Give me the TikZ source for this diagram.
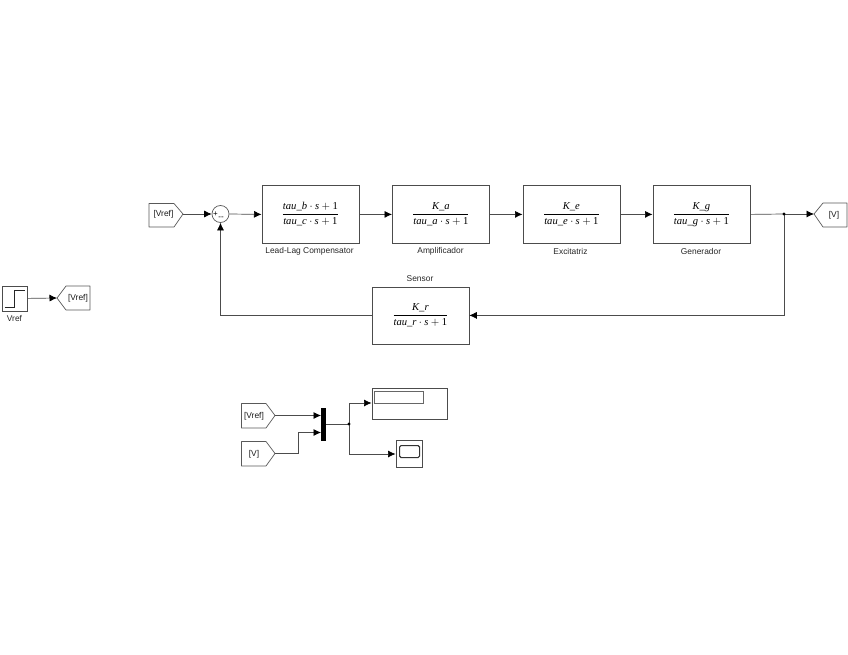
\documentclass[tikz,border=0pt]{standalone}
\usepackage{fontspec}
\newfontfamily\sansx{Liberation Sans}
\newfontfamily\serifx{Liberation Serif}
\usepackage{amsmath}
\usetikzlibrary{arrows.meta}
\begin{document}
\begin{tikzpicture}[x=1pt,y=-1pt,
  blockbox/.style={draw=black!70,line width=0.8pt,minimum width=97pt,minimum height=57pt,inner sep=0pt,anchor=north west},
  lbl/.style={font=\sansx\fontsize{8.4}{9}\selectfont,text=black!85,inner sep=0pt},
  tag/.style={font=\sansx\fontsize{8.4}{9}\selectfont,text=black!90,inner sep=0pt},
  wire/.style={draw=black!70,line width=0.7pt},
  arr/.style={wire,-{Latex[length=7.5pt,width=7pt,black]}},
  shell/.style={draw=black!65,line width=0.7pt,line join=round},
  dot/.style={circle,fill=black,inner sep=0pt,minimum size=3.4pt}]
\useasboundingbox (0,0) rectangle (848,655);
\newcommand{\vn}[1]{\mbox{\serifx\itshape #1}}
\newcommand{\tf}[2]{{\fontsize{10.6}{13}\selectfont$\dfrac{#1}{#2}$}}
\newcommand{\tl}[1]{\vn{#1}\cdot\vn{s}+\mbox{\serifx 1}}
% goto / from tags
\draw[shell] (149,203.5) -- (174,203.5) -- (183,214) -- (174,227) -- (149,227) -- cycle;
\coordinate (fromA) at (183,214);
\node[tag] at (163.5,214.5) {[Vref]};
\node[circle,draw=black!65,line width=0.7pt,minimum size=17pt,inner sep=0pt] (sum) at (220.5,214) {};
\node[font=\sansx\fontsize{8}{8}\selectfont,inner sep=0pt] at (215.5,214) {+};
\node[font=\sansx\fontsize{8}{8}\selectfont,inner sep=0pt] at (221,218) {--};
\node[blockbox] (b1) at (261.5,185.5) {\tf{\tl{tau\_b}}{\tl{tau\_c}}};
\node[blockbox] (b2) at (392,185.5) {\tf{\vn{K\_a}}{\tl{tau\_a}}};
\node[blockbox] (b3) at (522.5,185.5) {\tf{\vn{K\_e}}{\tl{tau\_e}}};
\node[blockbox] (b4) at (652.5,185.5) {\tf{\vn{K\_g}}{\tl{tau\_g}}};
\node[blockbox] (b5) at (371.5,286.5) {\tf{\vn{K\_r}}{\tl{tau\_r}}};
\node[lbl] (l1) at (309.5,251) {Lead-Lag Compensator};
\node[lbl] (l2) at (440.5,251) {Amplificador};
\node[lbl] (l3) at (570.5,251) {Excitatriz};
\node[lbl] (l4) at (701,251) {Generador};
\node[lbl] (l5) at (420,279) {Sensor};
\draw[shell] (814,214) -- (823,203) -- (847,203) -- (847,227) -- (823,227) -- cycle;
\coordinate (gotoV) at (814,214);
\node[tag] at (834,215) {[V]};
\coordinate (j1) at (784,214);
\draw[arr] (fromA) -- (sum.west);
\draw[arr] (sum.east) -- (b1.west);
\draw[arr] (b1.east) -- (b2.west);
\draw[arr] (b2.east) -- (b3.west);
\draw[arr] (b3.east) -- (b4.west);
\draw[wire] (b4.east) -- (j1);
\draw[arr] (j1) -- (gotoV);
\draw[arr] (j1) |- (b5.east);
\draw[arr] (b5.west) -| (sum.south);
\node[dot] (j1d) at (j1) {};
% step source
\node[draw=black!70,line width=0.8pt,minimum size=25pt,inner sep=0pt,anchor=north west] (step1) at (1.5,285.5) {};
\draw[line width=0.7pt,black!85] (4.5,307.5) -- (14.5,307.5) -- (14.5,290) -- (25,290);
\node[lbl] (l6) at (14.5,318.5) {Vref};
\draw[shell] (57,298) -- (66,286) -- (90,286) -- (90,310) -- (66,310) -- cycle;
\coordinate (gotoR) at (57,298);
\node[tag] at (78,298.5) {[Vref]};
\draw[arr] (step1.east) -- (gotoR);
% bottom
\draw[shell] (241.5,403.5) -- (266,403.5) -- (275,415.5) -- (266,428) -- (241.5,428) -- cycle;
\coordinate (fromB) at (275,415.5);
\node[tag] at (254,416.5) {[Vref]};
\draw[shell] (241.5,441.5) -- (266,441.5) -- (275,453.5) -- (266,466) -- (241.5,466) -- cycle;
\coordinate (fromC) at (275,453.5);
\node[tag] at (254,454.5) {[V]};
\node[fill=black,minimum width=5pt,minimum height=33pt,inner sep=0pt,anchor=north west] (mux) at (321,408) {};
\coordinate (muxA) at (321,415.5);
\coordinate (muxB) at (321,432.5);
\coordinate (muxO) at (326,424);
\coordinate (j2) at (349,424);
\node[draw=black!70,line width=0.8pt,minimum width=75pt,minimum height=31pt,inner sep=0pt,anchor=north west] (disp) at (371.5,387.5) {};
\node[draw=black!60,line width=0.7pt,minimum width=49pt,minimum height=12pt,inner sep=0pt,anchor=north west] (dispin) at (374,391) {};
\coordinate (dispI) at (371.5,403);
\node[draw=black!70,line width=0.8pt,minimum width=26pt,minimum height=27pt,inner sep=0pt,anchor=north west] (scope) at (395.5,440) {};
\node[draw=black!80,line width=1.1pt,rounded corners=1.5pt,minimum width=20pt,minimum height=12pt,inner sep=0pt,anchor=north west] (scopein) at (399,445) {};
\coordinate (scopeI) at (395.5,454);
\draw[arr] (fromB) -- (muxA);
\coordinate (bend) at (298,432.5);
\draw[arr] (fromC) -| (bend) -- (muxB);
\draw[wire] (muxO) -- (j2);
\draw[arr] (j2) |- (dispI);
\draw[arr] (j2) |- (scopeI);
\node[dot] (j2d) at (j2) {};
\end{tikzpicture}
\end{document}
